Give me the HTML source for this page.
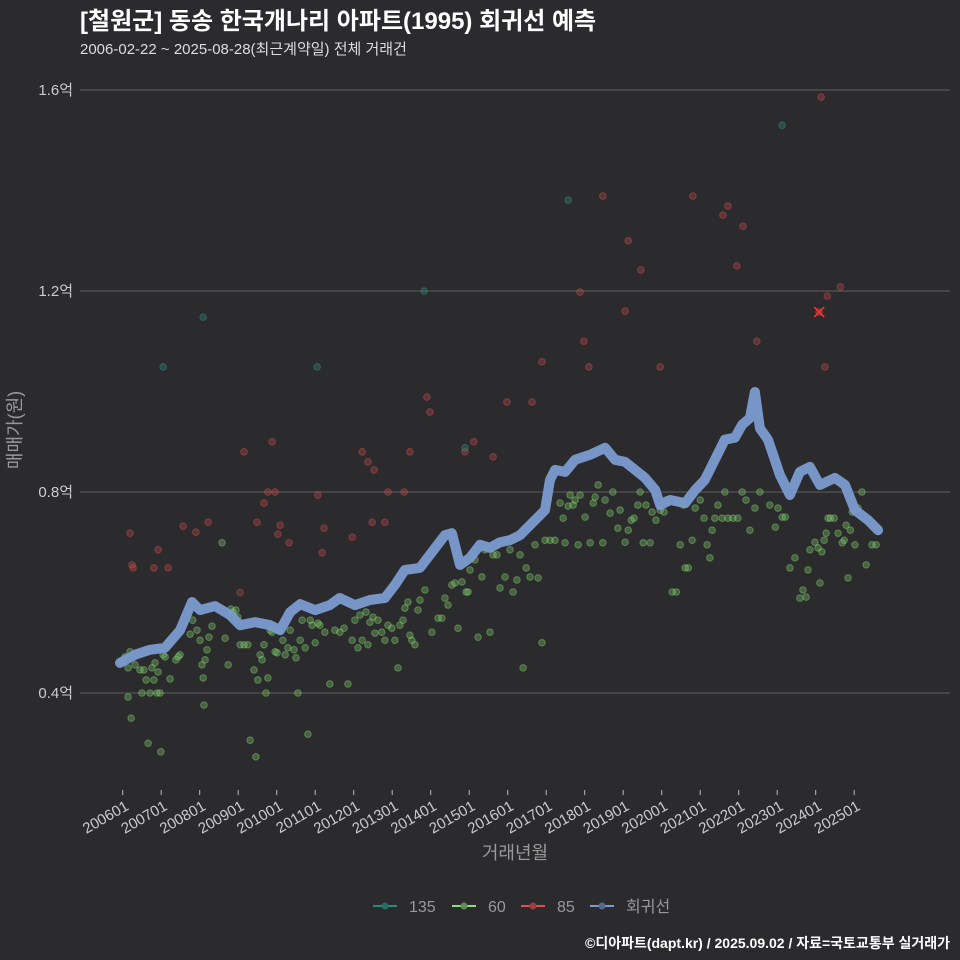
<!DOCTYPE html>
<html><head><meta charset="utf-8">
<style>
body{margin:0;background:#2b2a2c;}
svg{display:block;font-family:"Liberation Sans","Noto Sans CJK KR",sans-serif;}
</style></head>
<body>
<svg id="chart" width="960" height="960" viewBox="0 0 960 960" xmlns="http://www.w3.org/2000/svg">
<rect width="960" height="960" fill="#2b2a2c"/>
<text x="80" y="29" fill="#ffffff" font-size="24" font-weight="bold">[철원군] 동송 한국개나리 아파트(1995) 회귀선 예측</text>
<text x="80" y="54" fill="#dddddd" font-size="15">2006-02-22 ~ 2025-08-28(최근계약일) 전체 거래건</text>
<g id="grid"></g>
<g id="yticks"></g>
<g id="xticks"></g>
<g id="pts"></g>
<g id="reg"></g>
<text x="515" y="859" fill="#999" font-size="18" text-anchor="middle">거래년월</text>
<text transform="translate(21,430) rotate(-90)" fill="#999" font-size="18" text-anchor="middle">매매가(원)</text>
<g font-size="16" fill="#999">
  <g><line x1="373" y1="906" x2="397" y2="906" stroke="#2a8a80" stroke-width="2"/><circle cx="385" cy="906" r="3.5" fill="#2a6a64"/><text x="409" y="912">135</text></g>
  <g><line x1="452" y1="906" x2="476" y2="906" stroke="#8de07a" stroke-width="2"/><circle cx="464" cy="906" r="3.5" fill="#5f8f55"/><text x="488" y="912">60</text></g>
  <g><line x1="521" y1="906" x2="545" y2="906" stroke="#e05050" stroke-width="2"/><circle cx="533" cy="906" r="3.5" fill="#9a4040"/><text x="557" y="912">85</text></g>
  <g><line x1="590" y1="906" x2="614" y2="906" stroke="#7b9bd0" stroke-width="2"/><circle cx="602" cy="906" r="3.5" fill="#556a8a"/><text x="626" y="912">회귀선</text></g>
</g>
<text x="950" y="948" fill="#ffffff" font-size="14" font-weight="bold" text-anchor="end">©디아파트(dapt.kr) / 2025.09.02 / 자료=국토교통부 실거래가</text>
</svg>
<script>
const yTicks=[4000,8000,12000,16000];
const yTickLabels=["0.4억","0.8억","1.2억","1.6억"];
const xTicks=[2006,2007,2008,2009,2010,2011,2012,2013,2014,2015,2016,2017,2018,2019,2020,2021,2022,2023,2024,2025];
const xTickLabels=["200601","200701","200801","200901","201001","201101","201201","201301","201401","201501","201601","201701","201801","201901","202001","202101","202201","202301","202401","202501"];
const regYear=[2005.93,2006.32,2006.71,2007.10,2007.49,2007.80,2008.01,2008.40,2008.79,2009.05,2009.44,2009.83,2010.09,2010.35,2010.61,2011.00,2011.38,2011.64,2012.03,2012.42,2012.81,2013.07,2013.33,2013.72,2013.98,2014.37,2014.55,2014.76,2015.02,2015.28,2015.54,2015.80,2016.06,2016.32,2016.71,2016.97,2017.10,2017.23,2017.49,2017.75,2018.14,2018.53,2018.79,2019.05,2019.31,2019.57,2019.83,2019.96,2020.22,2020.61,2020.87,2021.12,2021.38,2021.64,2021.90,2022.09,2022.29,2022.42,2022.55,2022.76,2023.07,2023.33,2023.59,2023.85,2024.11,2024.50,2024.76,2025.02,2025.36,2025.62];
const regPrice=[4600,4760,4860,4900,5250,5810,5650,5730,5550,5350,5410,5350,5250,5610,5770,5650,5750,5890,5750,5850,5890,6150,6450,6490,6750,7140,7180,6550,6690,6950,6890,7000,7040,7140,7440,7640,8240,8440,8400,8640,8740,8880,8640,8600,8440,8280,8040,7740,7840,7780,8040,8240,8640,9040,9080,9340,9470,9990,9270,9040,8340,7940,8400,8500,8140,8280,8140,7640,7440,7240];
const y135=[2007.05,2008.09,2011.05,2013.83,2014.89,2017.57,2023.13];
const p135=[10490,11480,10490,12000,8880,13810,15300];
const y85=[2006.24,2006.27,2006.19,2006.92,2006.81,2007.18,2007.57,2007.90,2008.22,2009.05,2009.15,2009.49,2009.67,2009.77,2009.88,2009.96,2010.03,2010.09,2010.32,2011.07,2011.18,2011.23,2011.96,2012.22,2012.37,2012.48,2012.53,2012.81,2012.89,2013.31,2013.46,2013.90,2013.98,2014.89,2015.12,2015.62,2015.98,2016.63,2016.89,2017.88,2017.98,2018.11,2018.47,2019.05,2019.13,2019.46,2019.96,2020.81,2021.59,2021.72,2021.95,2022.11,2022.47,2024.09,2024.14,2024.24,2024.30,2024.64];
const p85=[6550,6490,7180,6850,6490,6490,7320,7200,7400,6000,8800,7400,7780,8000,9000,8000,7160,7340,6990,7940,6790,7280,7100,8800,8600,7400,8440,7400,8000,8000,8800,9890,9590,8800,9000,8700,9790,9790,10590,11980,11000,10490,13890,11600,13000,12420,10490,13890,13510,13690,12500,13290,11000,11580,15860,10490,11900,12080];
const y60=[2005.98,2006.06,2006.14,2006.19,2006.14,2006.22,2006.32,2006.45,2006.50,2006.55,2006.61,2006.66,2006.71,2006.76,2006.81,2006.84,2006.89,2006.92,2006.97,2006.99,2007.05,2007.10,2007.23,2007.38,2007.44,2007.49,2007.75,2007.82,2007.93,2008.01,2008.06,2008.09,2008.11,2008.14,2008.19,2008.24,2008.32,2008.58,2008.66,2008.74,2008.81,2008.86,2008.94,2008.99,2009.05,2009.15,2009.25,2009.31,2009.41,2009.46,2009.51,2009.57,2009.62,2009.67,2009.72,2009.77,2009.83,2009.88,2009.96,2010.01,2010.06,2010.16,2010.22,2010.29,2010.35,2010.45,2010.50,2010.55,2010.61,2010.66,2010.74,2010.81,2010.87,2010.92,2011.00,2011.07,2011.12,2011.25,2011.38,2011.51,2011.64,2011.75,2011.85,2011.96,2012.03,2012.11,2012.16,2012.22,2012.32,2012.37,2012.42,2012.50,2012.55,2012.63,2012.73,2012.81,2012.89,2012.99,2013.07,2013.15,2013.20,2013.28,2013.33,2013.41,2013.46,2013.51,2013.59,2013.67,2013.72,2013.85,2014.03,2014.19,2014.29,2014.37,2014.45,2014.55,2014.63,2014.71,2014.81,2014.92,2014.97,2015.02,2015.15,2015.23,2015.33,2015.41,2015.54,2015.62,2015.72,2015.80,2015.93,2016.06,2016.14,2016.24,2016.32,2016.40,2016.48,2016.58,2016.71,2016.79,2016.89,2016.97,2017.10,2017.23,2017.36,2017.44,2017.49,2017.57,2017.62,2017.70,2017.75,2017.83,2017.88,2018.01,2018.14,2018.22,2018.27,2018.35,2018.47,2018.53,2018.66,2018.73,2018.86,2018.92,2019.05,2019.13,2019.21,2019.28,2019.38,2019.44,2019.52,2019.59,2019.70,2019.75,2019.85,2019.96,2020.06,2020.11,2020.27,2020.38,2020.48,2020.56,2020.61,2020.69,2020.79,2020.87,2021.00,2021.10,2021.18,2021.25,2021.31,2021.38,2021.46,2021.57,2021.64,2021.72,2021.85,2021.98,2022.09,2022.19,2022.29,2022.42,2022.55,2022.81,2022.95,2023.02,2023.13,2023.21,2023.33,2023.46,2023.59,2023.67,2023.75,2023.80,2023.85,2023.98,2024.06,2024.11,2024.16,2024.22,2024.27,2024.32,2024.38,2024.48,2024.58,2024.69,2024.74,2024.79,2024.84,2024.90,2024.95,2025.02,2025.10,2025.20,2025.31,2025.46,2025.57];
const p60=[4620,4720,4500,4820,3920,3500,4560,4460,4000,4460,4260,3000,4000,4500,4260,4600,4000,4420,4000,2830,4760,4720,4280,4660,4720,4760,5170,5450,5250,5050,4560,4300,3760,4660,4860,5110,5330,6990,5090,4560,5670,5610,5650,5510,4960,4960,4960,3060,4460,2730,4260,4760,4660,4960,4000,4300,5250,5210,4820,4800,5250,5050,4760,4900,5250,4860,4700,4000,5050,5450,4900,3180,5450,5350,5000,5390,5350,5210,4180,5250,5210,5290,4180,5050,5450,4900,5550,5050,5610,4960,5410,5510,5190,5450,5210,5050,5350,5290,5050,4500,5350,5450,5690,5810,5150,5050,4960,5650,5850,6050,5210,5490,5490,5890,5750,6150,6190,5290,6210,6010,6010,6450,6650,5110,6310,6850,5210,6750,6750,6090,6310,6850,6010,6250,6750,4500,6490,6310,6950,6290,5000,7040,7040,7040,7780,7480,6990,7720,7940,7740,7840,6950,7940,7500,6990,7780,7900,8140,6990,7840,7580,8000,7280,7640,7000,7240,7440,7480,7740,8000,6990,7740,6990,7600,7440,7640,7600,7840,6010,6010,6950,7740,6490,6490,7040,7680,7840,7480,6950,6690,7240,7480,7740,7480,8000,7480,7480,7480,8000,7840,7240,7680,8000,7740,7300,7680,7500,7500,6490,6690,5890,6050,5910,6450,6850,7000,6890,6190,6810,7040,7180,7480,7480,7480,7180,6990,7040,7340,6290,7240,7600,6950,7680,8000,6550,6950,6950];

const NS="http://www.w3.org/2000/svg";
const X0=80,X1=950;
function xScale(yr){return 122.7+(yr-2006)*38.5;}
function yScale(v){return 693-(v-4000)/4000*201;}
function mk(tag,attrs,parent){const e=document.createElementNS(NS,tag);for(const k in attrs)e.setAttribute(k,attrs[k]);parent.appendChild(e);return e;}

const grid=document.getElementById('grid'),yt=document.getElementById('yticks'),xt=document.getElementById('xticks');
yTicks.forEach((v,i)=>{
  const l=mk('line',{x1:X0,x2:X1,y1:yScale(v),y2:yScale(v),stroke:'#555',"stroke-width":1.2},grid);
  
  
  const t=mk('text',{x:73,y:yScale(v)+5,fill:'#cccccc',"font-size":15,"text-anchor":"end"},yt);
  t.textContent=yTickLabels[i];
  
  
});
xTicks.forEach((yr,i)=>{
  const x=xScale(yr);
  const tk=mk('line',{x1:x,x2:x,y1:790,y2:795,stroke:'#bbb',"stroke-width":1},xt);
  
  
  const t=mk('text',{transform:`translate(${x+7},${809}) rotate(-30)`,fill:'#cccccc',"font-size":15,"text-anchor":"end"},xt);
  t.textContent=xTickLabels[i];
  
  
});
const pts=document.getElementById('pts');
function series(ys,ps,fill,stroke,name){
  ys.forEach((yr,i)=>{
    const c=mk('circle',{cx:xScale(yr),cy:yScale(ps[i]),r:3.3,fill:fill,"fill-opacity":0.35,stroke:stroke,"stroke-opacity":0.4,"stroke-width":1},pts);
    
    
  });
}
series(y60,p60,'#7ccc6a','#8fe07a','point-60');
series(y85,p85,'#c04848','#e05858','point-85');
series(y135,p135,'#2a8a80','#36a096','point-135');
const hx=xScale(2024.09),hy=yScale(11580);
const hm=mk('path',{d:`M${hx-5},${hy-5}L${hx+5},${hy+5}M${hx+5},${hy-5}L${hx-5},${hy+5}`,stroke:'#ff3030',"stroke-width":1.6},pts);



const reg=document.getElementById('reg');
const d=regYear.map((yr,i)=>(i?'L':'M')+xScale(yr).toFixed(1)+','+yScale(regPrice[i]).toFixed(1)).join('');
const rl=mk('path',{d:d,fill:'none',stroke:'#7b9bd0',"stroke-width":10,"stroke-linejoin":"round","stroke-linecap":"round","stroke-opacity":0.95},reg);


</script>
</body></html>
